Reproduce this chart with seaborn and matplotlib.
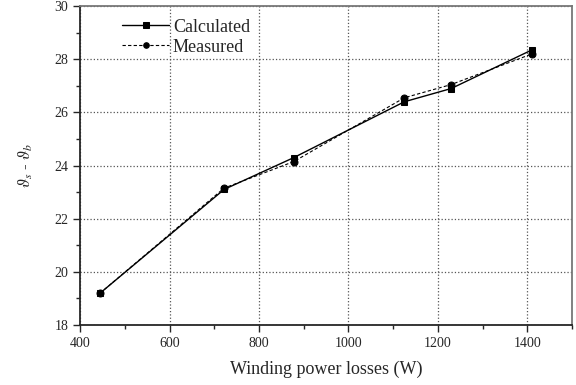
import matplotlib
matplotlib.use('Agg')
import matplotlib.pyplot as plt
import numpy as np
import pandas as pd
import seaborn as sns
from matplotlib.ticker import MultipleLocator

losses = [445, 722, 878, 1125, 1230, 1410]
calculated = [19.2, 23.1, 24.3, 26.4, 26.9, 28.35]
measured = [19.2, 23.15, 24.15, 26.55, 27.05, 28.2]

sns.set_style('ticks')
plt.rcParams['font.family'] = ['Liberation Serif', 'DejaVu Serif']
plt.rcParams['mathtext.fontset'] = 'stix'

data = pd.DataFrame({'losses': losses, 'Calculated': calculated, 'Measured': measured})

fig = plt.figure(figsize=(5.76, 3.85), dpi=100)
ax = fig.add_axes([0.139, 0.156, 0.854, 0.828])

sns.lineplot(x='losses', y='Calculated', data=data, ax=ax, color='black', lw=1,
             marker='s', markersize=5, markeredgecolor='black', label='Calculated')
sns.lineplot(x='losses', y='Measured', data=data, ax=ax, color='black', lw=0.8,
             linestyle='--', marker='o', markersize=5, markeredgecolor='black',
             label='Measured')
ax.lines[1].set_dashes([3, 2])

ax.set_xlim(400, 1500)
ax.set_ylim(18, 30)
ax.xaxis.set_major_locator(MultipleLocator(200))
ax.xaxis.set_minor_locator(MultipleLocator(100))
ax.yaxis.set_major_locator(MultipleLocator(2))
ax.yaxis.set_minor_locator(MultipleLocator(1))
ax.tick_params(which='major', direction='out', length=5, width=1, labelsize=10)
ax.tick_params(which='minor', direction='out', length=3, width=1)
ax.grid(True, which='major', linestyle=':', color='#555555', lw=0.9)

for side in ['left', 'bottom']:
    ax.spines[side].set_linewidth(1.3)
for side in ['top', 'right']:
    ax.spines[side].set_linewidth(1.3)
    ax.spines[side].set_color('#777777')

ax.set_xlabel('Winding power losses (W)', fontsize=13, labelpad=8)
ax.set_ylabel(r'$\vartheta_s$ - $\vartheta_b$', fontsize=12, labelpad=14)

leg = ax.legend(loc='upper left', bbox_to_anchor=(0.06, 1.0), frameon=False,
                fontsize=13, handlelength=2.6, handletextpad=0.2, borderpad=0.2,
                labelspacing=0.15, markerscale=0.8)

fig.savefig('out.png', dpi=100)
